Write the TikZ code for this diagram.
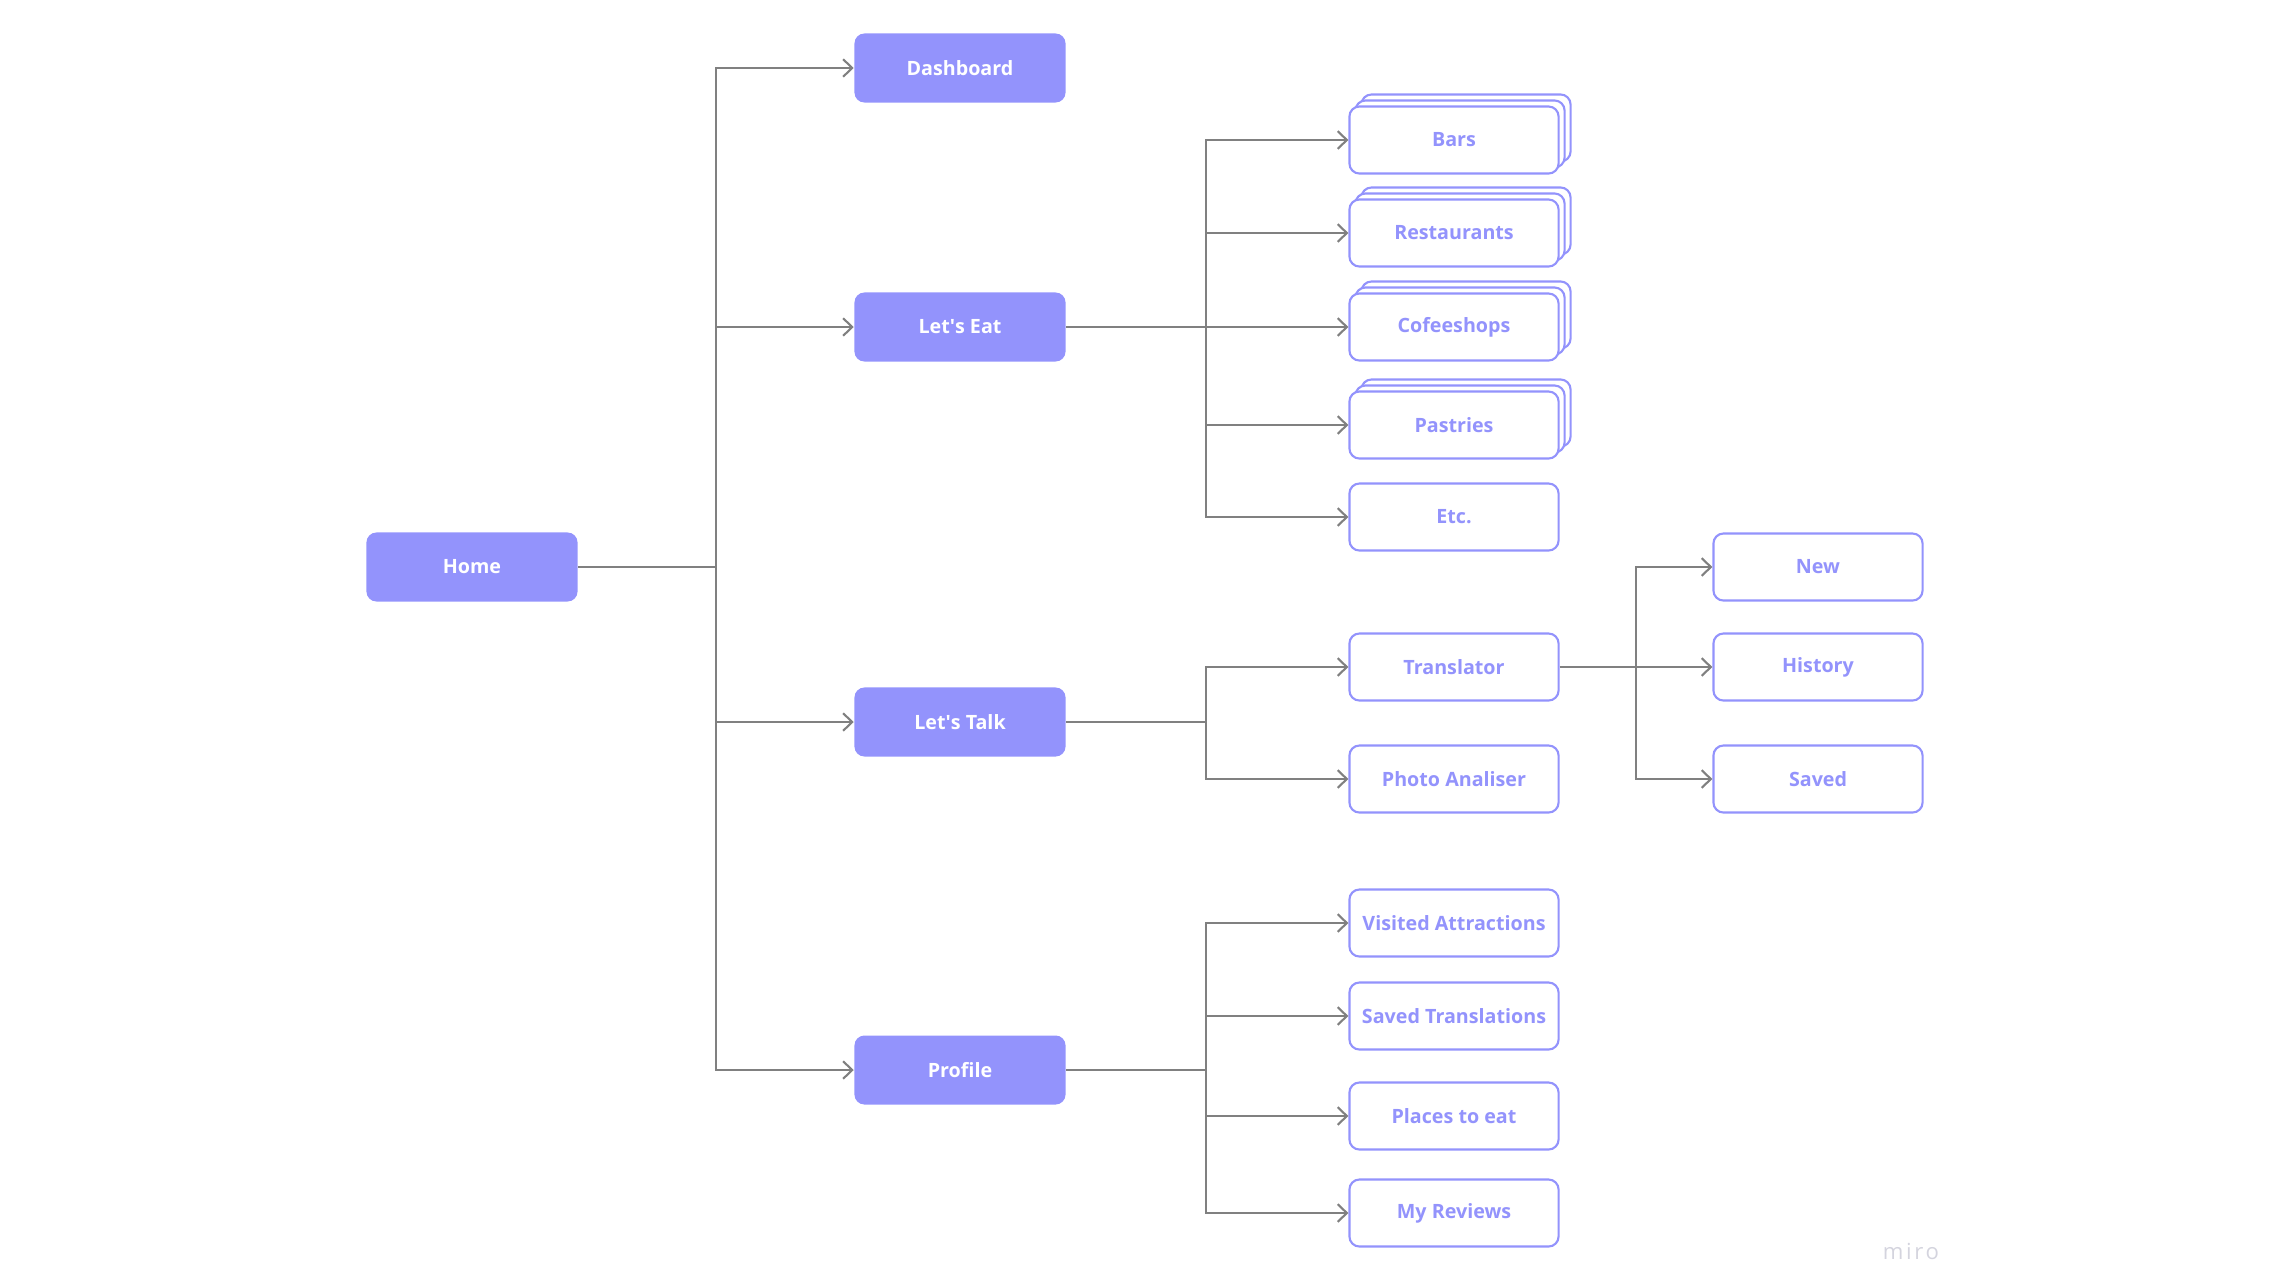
\documentclass[tikz,border=0pt]{standalone}
\usepackage{fontspec}
\setmainfont{Open Sans}
\usepackage{tikz}
\usetikzlibrary{positioning, arrows.meta, shadows}
\definecolor{mirofill}{RGB}{147,147,252}
\definecolor{linkgray}{RGB}{128,128,128}
\definecolor{watermark}{RGB}{212,212,222}
\tikzset{
  mainbox/.style={
    rectangle,
    rounded corners=0.1cm,
    fill=mirofill,
    text=white,
    font=\bfseries\fontsize{5.6pt}{7pt}\selectfont,
    minimum width=2.11cm,
    minimum height=0.69cm,
    inner sep=0pt
  },
  subbox/.style={
    rectangle,
    rounded corners=0.1cm,
    draw=mirofill,
    line width=0.6pt,
    fill=white,
    text=mirofill,
    font=\bfseries\fontsize{5.6pt}{7pt}\selectfont,
    minimum width=2.09cm,
    minimum height=0.67cm,
    inner sep=0pt
  },
  stackbox/.style={
    subbox,
    general shadow={shadow xshift=0.12cm, shadow yshift=0.12cm, draw=mirofill, fill=white, line width=0.6pt},
    general shadow={shadow xshift=0.06cm, shadow yshift=0.06cm, draw=mirofill, fill=white, line width=0.6pt}
  },
  link/.style={
    draw=linkgray,
    line width=0.6pt
  },
  arrow/.style={
    link,
    -{Straight Barb[length=2.6pt,width=5pt]}
  }
}

\begin{document}
\begin{tikzpicture}[x=0.01cm, y=-0.01cm]
\useasboundingbox (0,0) rectangle (2282,1275);

% Nodes
\node (home) [mainbox] at (472,567) {Home};

\node (dash) [mainbox] at (960,68) {Dashboard};
\node (eat) [mainbox] at (960,327) {Let\textquotesingle s Eat};
\node (talk) [mainbox] at (960,722) {Let\textquotesingle s Talk};
\node (profile) [mainbox] at (960,1070) {Profile};

\node (bars) [stackbox] at (1454,140) {Bars};
\node (rest) [stackbox] at (1454,233) {Restaurants};
\node (coffee) [stackbox] at (1454,327) {Cofeeshops};
\node (pastry) [stackbox] at (1454,425) {Pastries};
\node (etc) [subbox] at (1454,517) {Etc.};

\node (transl) [subbox] at (1454,667) {Translator};
\node (photo) [subbox] at (1454,779) {Photo Analiser};

\node (visited) [subbox] at (1454,923) {Visited Attractions};
\node (savedtr) [subbox] at (1454,1016) {Saved Translations};
\node (places) [subbox] at (1454,1116) {Places to eat};
\node (reviews) [subbox] at (1454,1213) {My Reviews};

\node (new) [subbox] at (1818,567) {New};
\node (history) [subbox] at (1818,667) {History};
\node (saved) [subbox] at (1818,779) {Saved};

\node (miro) [text=watermark, font=\fontsize{6.3pt}{7pt}\selectfont\addfontfeatures{LetterSpace=12}] at (1911,1251) {miro};

% Hubs
\coordinate (homehub) at (716,567);
\coordinate (eathub) at (1206,327);
\coordinate (talkhub) at (1206,722);
\coordinate (profhub) at (1206,1070);
\coordinate (translhub) at (1636,667);

% Arrows
\draw [link] (home.east) -- (homehub);
\draw [arrow] (homehub) |- (dash.west);
\draw [arrow] (homehub) |- (eat.west);
\draw [arrow] (homehub) |- (talk.west);
\draw [arrow] (homehub) |- (profile.west);

\draw [link] (eat.east) -- (eathub);
\draw [arrow] (eathub) |- (bars.west);
\draw [arrow] (eathub) |- (rest.west);
\draw [arrow] (eathub) -- (coffee.west);
\draw [arrow] (eathub) |- (pastry.west);
\draw [arrow] (eathub) |- (etc.west);

\draw [link] (talk.east) -- (talkhub);
\draw [arrow] (talkhub) |- (transl.west);
\draw [arrow] (talkhub) |- (photo.west);

\draw [link] (profile.east) -- (profhub);
\draw [arrow] (profhub) |- (visited.west);
\draw [arrow] (profhub) |- (savedtr.west);
\draw [arrow] (profhub) |- (places.west);
\draw [arrow] (profhub) |- (reviews.west);

\draw [link] (transl.east) -- (translhub);
\draw [arrow] (translhub) |- (new.west);
\draw [arrow] (translhub) -- (history.west);
\draw [arrow] (translhub) |- (saved.west);

\end{tikzpicture}
\end{document}
